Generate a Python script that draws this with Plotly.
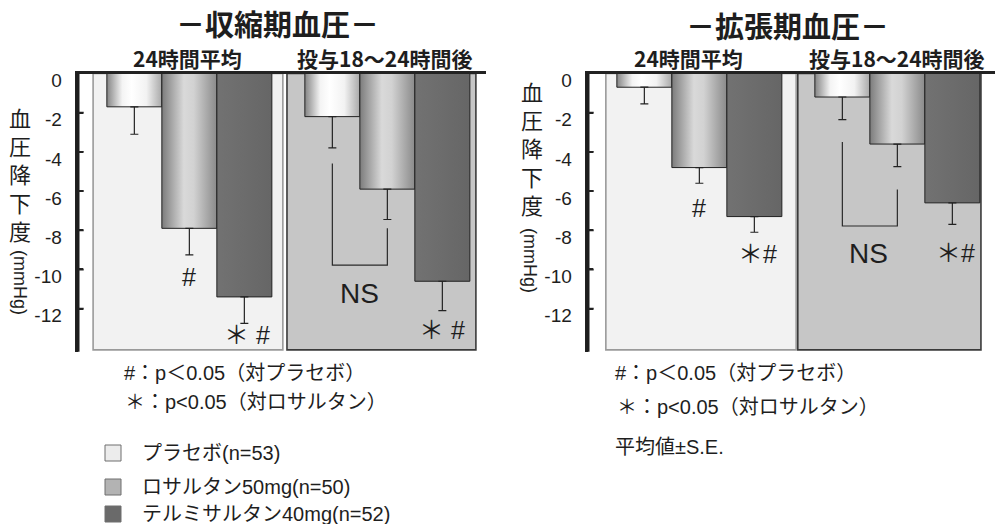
import plotly.graph_objects as go

W, H = 995, 524
LATIN = "Liberation Sans, Arial, Noto Sans CJK JP, sans-serif"
CJK = "Noto Sans CJK JP, Liberation Sans, sans-serif"
INK = "#1e1e1e"

# ---- data -------------------------------------------------------------
TREATMENTS = ["プラセボ(n=53)", "ロサルタン50mg(n=50)", "テルミサルタン40mg(n=52)"]
PERIODS = ["24時間平均", "投与18～24時間後"]

SBP_24H = [-1.7, -7.9, -11.4]
SBP_24H_SE = [1.4, 1.35, 1.35]
SBP_LATE = [-2.2, -5.9, -10.6]
SBP_LATE_SE = [1.6, 1.55, 1.5]

DBP_24H = [-0.7, -4.8, -7.3]
DBP_24H_SE = [0.85, 0.8, 0.8]
DBP_LATE = [-1.2, -3.6, -6.6]
DBP_LATE_SE = [1.15, 1.15, 1.1]

Y_TICKS = [0, -2, -4, -6, -8, -10, -12]
Y_TICK_TEXT = ["0", "-2", "-4", "-6", "-8", "-10", "-12"]

# ---- styling ----------------------------------------------------------
GROUP_CENTERS = [0.0, 3.6]
BAR_OFFSETS = [-1.0, 0.0, 1.0]
BAR_WIDTH = 1.0
BAR_SHADES = [
    [[0, "#858585"], [0.28, "#f4f4f4"], [0.45, "#ffffff"], [0.72, "#f2f2f2"], [1, "#a9a9a9"]],
    [[0, "#7c7c7c"], [0.4, "#d9d9d9"], [0.58, "#d2d2d2"], [1, "#8a8a8a"]],
    [[0, "#727272"], [1, "#666666"]],
]
LEGEND_FILL = ["#ececec", "#b3b3b3", "#6a6a6a"]
PANEL_FILL = ["#f2f2f2", "#c6c6c6"]
PANEL_LINE = ["#9a9a9a", "#3a3a3a"]
X_RANGE = [-2.03, 5.40]
Y_RANGE = [-14.2, 0]
AXIS_LEFT_PX = [77.7, 587.7]
PLOT_TOP_PX, PLOT_BOTTOM_PX = 73.5, 351.8


def px(x):
    return x / W


def py(y):
    return 1 - y / H


fig = go.Figure()


def add_chart(n, values, errors, panels, marks, ns_pos, bracket):
    xa, ya = ("x", "y") if n == 1 else ("x2", "y2")
    # shaded background panels for the two time windows
    for i, (x0, x1) in enumerate(panels):
        fig.add_shape(type="rect", xref=xa, yref=ya, x0=x0, x1=x1, y0=-14.1, y1=0,
                      fillcolor=PANEL_FILL[i], line=dict(color=PANEL_LINE[i], width=1.6),
                      layer="below")
    for g, (vals, ses) in enumerate(zip(values, errors)):
        centers = [GROUP_CENTERS[g] + o for o in BAR_OFFSETS]
        for k, (c, v) in enumerate(zip(centers, vals)):
            x0, x1 = c - BAR_WIDTH / 2, c + BAR_WIDTH / 2
            fig.add_trace(go.Scatter(
                x=[x0, x0, x1, x1, x0], y=[0, v, v, 0, 0], xaxis=xa, yaxis=ya,
                mode="lines", fill="toself",
                fillgradient=dict(type="horizontal", colorscale=BAR_SHADES[k]),
                line=dict(color="#222222", width=1), hoverinfo="skip", showlegend=False))
        fig.add_trace(go.Scatter(
            x=centers, y=vals, xaxis=xa, yaxis=ya, mode="markers",
            marker=dict(size=1, color="rgba(0,0,0,0)"),
            error_y=dict(type="data", symmetric=False, array=[0, 0, 0], arrayminus=ses,
                         color="#222222", thickness=1.2, width=4),
            hoverinfo="skip", showlegend=False))
    # "NS" bracket between placebo and losartan in the later window
    xl, xr = GROUP_CENTERS[1] - 1, GROUP_CENTERS[1]
    top_l, top_r, bottom = bracket
    fig.add_trace(go.Scatter(
        x=[xl, xl, xr, xr], y=[top_l, bottom, bottom, top_r], xaxis=xa, yaxis=ya,
        mode="lines", line=dict(color="#2a2a2a", width=1.2),
        hoverinfo="skip", showlegend=False))
    fig.add_annotation(x=ns_pos[0], y=ns_pos[1], xref=xa, yref=ya, text="NS",
                       showarrow=False, font=dict(family=LATIN, size=28, color=INK))
    for mx, my, txt in marks:
        fig.add_annotation(x=mx, y=my, xref=xa, yref=ya, text=txt, showarrow=False,
                           font=dict(family=LATIN, size=25, color=INK))
    # heavy vertical value axis bar with inward tick marks
    ax = AXIS_LEFT_PX[n - 1]
    fig.add_shape(type="rect", xref="paper", yref="paper",
                  x0=px(ax - 1.8), x1=px(ax + 1.8),
                  y0=py(PLOT_BOTTOM_PX), y1=py(PLOT_TOP_PX - 1),
                  fillcolor="#1e1e1e", line=dict(width=0), layer="above")
    for t in Y_TICKS[1:]:
        fig.add_shape(type="rect", xref="paper", yref=ya, x0=px(ax), x1=px(ax + 6),
                      y0=t + 0.05, y1=t - 0.05, fillcolor="#222222",
                      line=dict(width=0), layer="above")


add_chart(1, [SBP_24H, SBP_LATE], [SBP_24H_SE, SBP_LATE_SE],
          panels=[(-1.75, 1.70), (1.775, 5.21)],
          marks=[(0.0, -10.4, "#"), (1.05, -13.35, "＊ #"), (4.6, -13.1, "＊ #")],
          ns_pos=(3.1, -11.2), bracket=(-4.59, -7.89, -9.78))
add_chart(2, [DBP_24H, DBP_LATE], [DBP_24H_SE, DBP_LATE_SE],
          panels=[(-1.70, 1.76), (1.79, 5.12)],
          marks=[(0.0, -6.84, "#"), (1.05, -9.23, "＊#"), (4.65, -9.18, "＊#")],
          ns_pos=(3.08, -9.18), bracket=(-3.49, -5.92, -7.78))

y_dom = [py(PLOT_BOTTOM_PX), py(PLOT_TOP_PX)]
xaxis_common = dict(range=X_RANGE, side="top", showline=True, linewidth=2.6,
                    linecolor="#222222", showticklabels=False, ticks="",
                    showgrid=False, zeroline=False, fixedrange=True, automargin=False)
yaxis_common = dict(range=Y_RANGE, domain=y_dom, showline=True, linewidth=3.2,
                    linecolor="#222222", ticks="inside", ticklen=5, tickwidth=2,
                    tickcolor="#222222", tickvals=Y_TICKS, ticktext=Y_TICK_TEXT,
                    ticklabelshift=7, ticklabelstandoff=9,
                    tickfont=dict(family=LATIN, size=19, color=INK),
                    showgrid=False, zeroline=False, fixedrange=True, automargin=False)

fig.update_layout(
    width=W, height=H, margin=dict(l=0, r=0, t=0, b=0, pad=0),
    paper_bgcolor="white", plot_bgcolor="white", showlegend=False,
    xaxis=dict(domain=[px(AXIS_LEFT_PX[0]), px(AXIS_LEFT_PX[0] + 7.43 * 55)], anchor="y",
               **xaxis_common),
    yaxis=dict(anchor="x", **yaxis_common),
    xaxis2=dict(domain=[px(AXIS_LEFT_PX[1]), 1.0], anchor="y2",
                **{**xaxis_common, "range": [X_RANGE[0], X_RANGE[0] + 407.3 / 55]}),
    yaxis2=dict(anchor="x2", **yaxis_common),
)


def text(x, y, s, size, family=CJK, xanchor="center", bold=False, angle=0):
    fig.add_annotation(x=px(x), y=py(y), xref="paper", yref="paper",
                       text=f"<b>{s}</b>" if bold else s, showarrow=False,
                       xanchor=xanchor, yanchor="middle", textangle=angle,
                       font=dict(family=family, size=size, color=INK))


# chart titles and period headings
text(277, 23, "－収縮期血圧－", 29, bold=True)
text(787, 25, "－拡張期血圧－", 29, bold=True)
for cx, period in zip([187, 385], PERIODS):
    text(cx, 58, period, 21, bold=True)
for cx, period in zip([688, 897], PERIODS):
    text(cx, 58, period, 21, bold=True)

# vertical axis titles, one character per line
Y_TITLE = "血圧降下度"
for cx, top, ux, uy in [(20, 117, 20, 282), (532, 91, 530, 260)]:
    for i, ch in enumerate(Y_TITLE):
        text(cx, top + 28.2 * i, ch, 22)
    text(ux, uy, "(mmHg)", 18, family=LATIN, angle=90)

# significance footnotes
NOTE_FONT = "Liberation Sans, Noto Sans CJK JP, sans-serif"
text(121.7, 373, "#：p＜0.05（対プラセボ）", 20, family=NOTE_FONT, xanchor="left")
text(123, 402, "＊：p<0.05（対ロサルタン）", 20, family=NOTE_FONT, xanchor="left")
text(613, 373, "#：p＜0.05（対プラセボ）", 20, family=NOTE_FONT, xanchor="left")
text(615, 407, "＊：p<0.05（対ロサルタン）", 20, family=NOTE_FONT, xanchor="left")
text(612.7, 447, "平均値±S.E.", 20, family=NOTE_FONT, xanchor="left")

# treatment key
for label, fill, cy in zip(TREATMENTS, LEGEND_FILL, [453, 487, 514]):
    fig.add_shape(type="rect", xref="paper", yref="paper",
                  x0=px(105), x1=px(121), y0=py(cy + 8), y1=py(cy - 8),
                  fillcolor=fill, line=dict(color="#6f6f6f", width=1))
    text(140, cy, label, 20, family=NOTE_FONT, xanchor="left")

fig.write_html("out.html")
